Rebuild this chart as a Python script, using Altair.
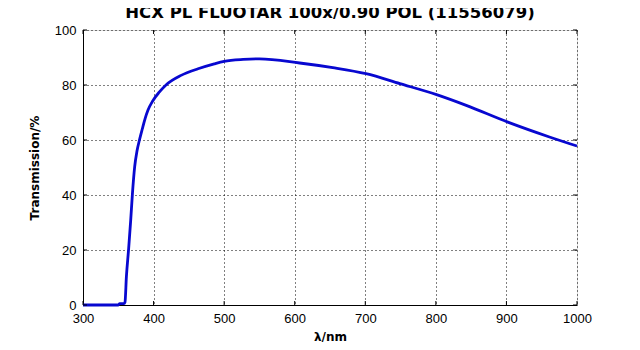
import altair as alt
import pandas as pd

wavelength = [300, 350, 352, 358, 359.5, 361.5, 364.7, 367.6, 370, 373.2, 376.5, 380,
              384, 388, 392, 399, 408, 418, 439, 463, 486, 500, 527, 550, 607, 654,
              701, 749, 801, 843, 902, 961, 1000]
transmission = [0, 0, 0.5, 0.5, 1, 10.3, 20.6, 30.9, 40.3, 50.2, 56, 60,
                64, 67.8, 70.8, 74.3, 77.4, 80.1, 83.5, 85.9, 87.7, 88.6, 89.3, 89.5,
                88.0, 86.3, 84.1, 80.5, 76.5, 72.6, 66.5, 61.1, 57.8]
x_ticks = [300, 400, 500, 600, 700, 800, 900, 1000]
y_ticks = [0, 20, 40, 60, 80, 100]

X_MIN, X_MAX = 300, 1000
Y_MIN, Y_MAX = 0, 100
W, H = 494, 275
TICK_PX = 4

df = pd.DataFrame({"wl": wavelength, "t": transmission})

FONT = "Liberation Sans"
TFONT = "DejaVu Sans"

xscale = alt.Scale(domain=[X_MIN, X_MAX], nice=False, zero=False)
yscale = alt.Scale(domain=[Y_MIN, Y_MAX], nice=False)

common = dict(grid=True, gridColor="black", gridDash=[1, 3], gridOpacity=1,
              gridWidth=1, ticks=False, labelFlush=False, labelOverlap=False,
              domainColor="black", labelFont=FONT, labelFontSize=13,
              labelColor="black", titleFont=TFONT, titleFontSize=12,
              titleFontWeight="bold", titleColor="black", format="d")

line = alt.Chart(df).mark_line(
    color="#0808d0", strokeWidth=2.8, interpolate="monotone"
).encode(
    x=alt.X("wl:Q", scale=xscale,
            axis=alt.Axis(values=x_ticks, title="λ/nm", labelPadding=7,
                          titlePadding=6, **common)),
    y=alt.Y("t:Q", scale=yscale,
            axis=alt.Axis(values=y_ticks, title="Transmission/%", labelPadding=7,
                          titlePadding=13, **common)),
)

# inward tick marks (MATLAB style) on all four sides
dy = (Y_MAX - Y_MIN) * TICK_PX / H
dx = (X_MAX - X_MIN) * TICK_PX / W
xt = pd.DataFrame({"v": x_ticks})
yt = pd.DataFrame({"v": y_ticks})


def xrule(y0, y1):
    return alt.Chart(xt).mark_rule(color="black", strokeWidth=1).encode(
        x=alt.X("v:Q", scale=xscale),
        y=alt.Y("a:Q", scale=yscale),
        y2="b:Q",
    ).transform_calculate(a=str(y0), b=str(y1))


def yrule(x0, x1):
    return alt.Chart(yt).mark_rule(color="black", strokeWidth=1).encode(
        y=alt.Y("v:Q", scale=yscale),
        x=alt.X("a:Q", scale=xscale),
        x2="b:Q",
    ).transform_calculate(a=str(x0), b=str(x1))


ticks = [xrule(Y_MIN, Y_MIN + dy), xrule(Y_MAX - dy, Y_MAX),
         yrule(X_MIN, X_MIN + dx), yrule(X_MAX - dx, X_MAX)]

chart = alt.layer(line, *ticks).properties(
    width=W, height=H,
    title=alt.TitleParams("HCX PL FLUOTAR 100x/0.90 POL (11556079)", anchor="middle",
                          font=TFONT, fontSize=16.5, fontWeight="bold", color="black",
                          offset=3),
    autosize=alt.AutoSizeParams(type="none"),
    padding={"left": 75, "top": 22, "right": 54, "bottom": 37},
).configure_view(
    stroke="black", strokeWidth=1
).configure(background="white")

chart.save("out.html", embed_options={"renderer": "svg", "actions": False})
